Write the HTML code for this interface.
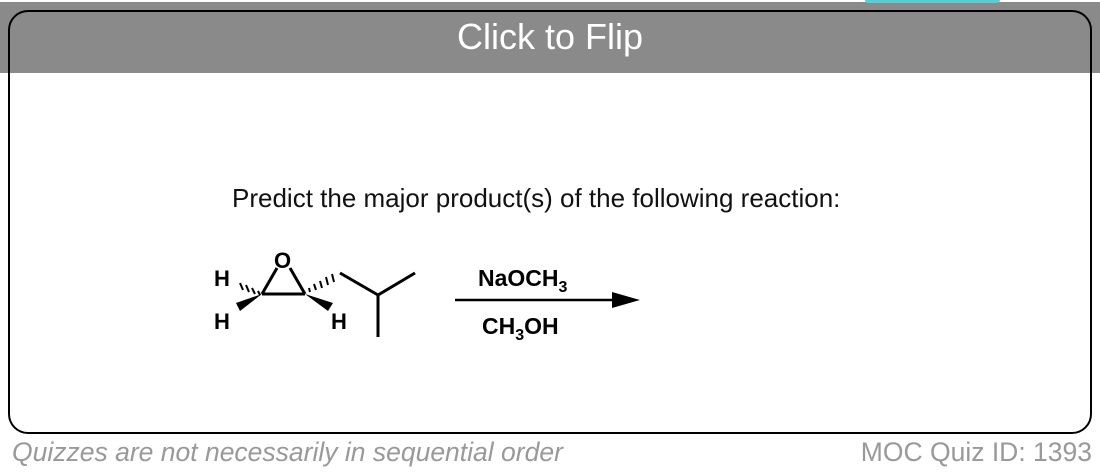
<!DOCTYPE html>
<html><head><style>
body{margin:0;width:1100px;height:474px;background:#fff;position:relative;overflow:hidden;font-family:"Liberation Sans",sans-serif}
.band{position:absolute;left:0;top:2px;width:1100px;height:71px;background:#8a8a8a}
.cyan{position:absolute;left:865px;top:0;width:135px;height:3px;background:#4fd1d9;border-radius:0 0 4px 4px}
.card{position:absolute;left:8px;top:10px;width:1080px;height:420px;border:2px solid #000;border-radius:20px}
.title{position:absolute;left:0;width:1100px;top:16px;text-align:center;color:#fff;font-size:36px}
.q{position:absolute;left:232px;top:183px;font-size:26px;color:#111}
.foot{position:absolute;top:437px;font-size:26.5px;color:#999}
</style></head><body>
<div class="band"></div><div class="cyan"></div>
<div class="card"></div>
<div class="title">Click to Flip</div>
<div class="q">Predict the major product(s) of the following reaction:</div>
<svg width="1100" height="474" style="position:absolute;left:0;top:0" font-family="Liberation Sans" font-weight="bold">
<g stroke="#000" stroke-width="3" fill="none">
<line x1="262" y1="294" x2="305" y2="294"/>
<line x1="262" y1="294" x2="277" y2="268"/>
<line x1="305" y1="294" x2="290" y2="268"/>
<line x1="340" y1="273" x2="378" y2="295"/>
<line x1="378" y1="295" x2="415" y2="273"/>
<line x1="378" y1="295" x2="378" y2="337"/>
<line x1="455" y1="300" x2="620" y2="300" stroke-width="2.5"/>
</g>
<g stroke="#000" stroke-width="2">
<line x1="258" y1="291" x2="260" y2="295"/><line x1="252" y1="288" x2="255" y2="294"/><line x1="246" y1="285" x2="249" y2="292"/><line x1="240" y1="283" x2="243" y2="290"/>
<line x1="310" y1="292" x2="309" y2="288"/><line x1="316" y1="290" x2="314" y2="284"/><line x1="322" y1="288" x2="320" y2="281"/><line x1="328" y1="285" x2="326" y2="277"/><line x1="334" y1="282" x2="332" y2="274"/>
</g>
<polygon points="262,294 236,303 240,311" fill="#000"/>
<polygon points="305,294 328,311 333,303" fill="#000"/>
<polygon points="640,300 612,292 612,308" fill="#000"/>
<g font-size="22" fill="#000">
<text x="274" y="268">O</text>
<text x="214" y="286">H</text>
<text x="214" y="329">H</text>
<text x="331" y="329">H</text>
<text x="478" y="286" font-size="23">NaOCH<tspan font-size="16" dy="6">3</tspan></text>
<text x="482" y="334" font-size="23">CH<tspan font-size="16" dy="6">3</tspan><tspan dy="-6">OH</tspan></text>
</g>
</svg>
<div class="foot" style="left:12px;font-style:italic">Quizzes are not necessarily in sequential order</div>
<div class="foot" style="right:8px">MOC Quiz ID: 1393</div>
</body></html>
